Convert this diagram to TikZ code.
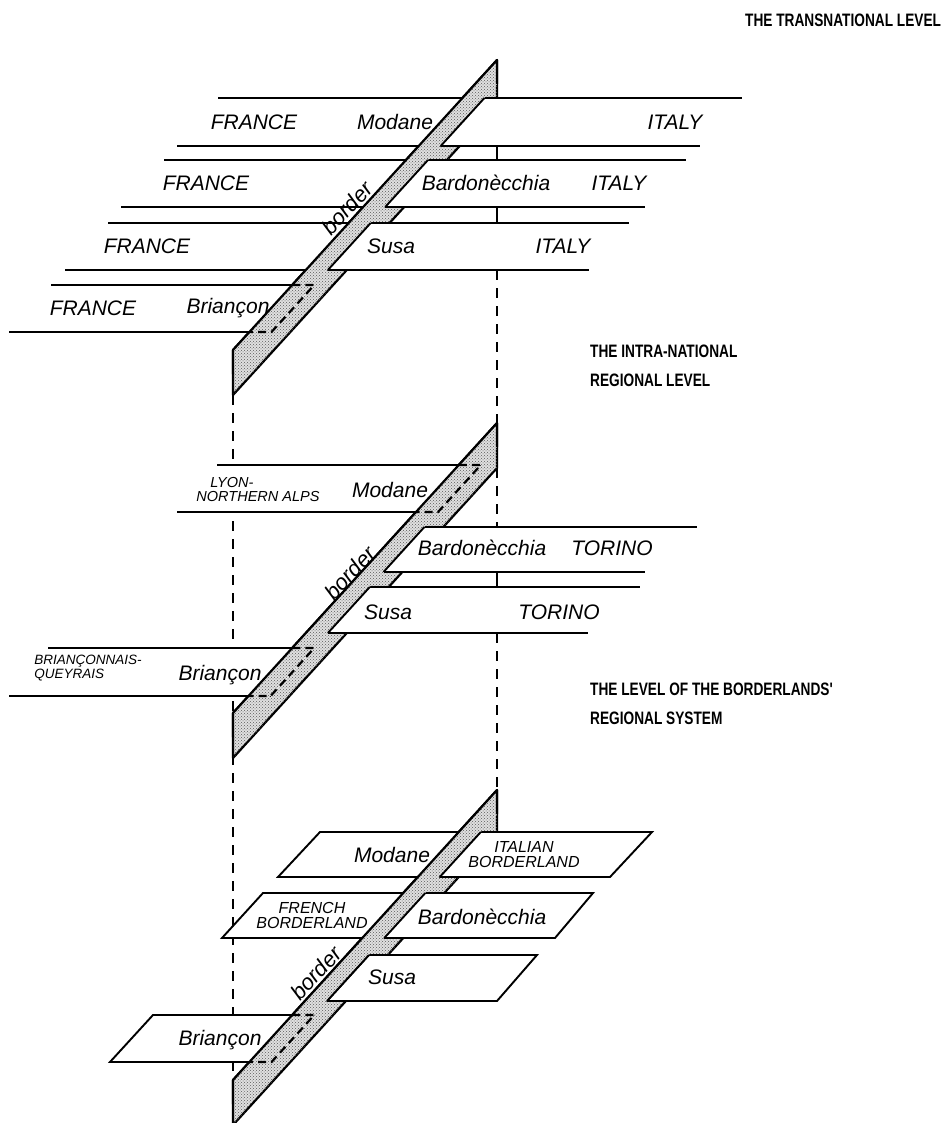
\documentclass[tikz,border=0pt]{standalone}
\usepackage{fontspec}
\setmainfont{Liberation Sans}
\newfontfamily\headfont[FakeStretch=0.76]{Liberation Sans}
\usetikzlibrary{patterns}

\begin{document}
\begin{tikzpicture}[x=1pt,y=-1pt,
    band/.style={line width=1.9pt},
    wall/.style={fill=black!12,postaction={pattern=crosshatch dots,pattern color=black!65}},
    edge/.style={line width=2.2pt,line join=round},
    guide/.style={line width=1.3pt,dash pattern=on 10pt off 8pt},
    hid/.style={line width=2.2pt,dash pattern=on 8pt off 5pt},
    lab/.style={font=\fontsize{21}{21}\selectfont\itshape,inner sep=0pt},
    sml/.style={font=\fontsize{16}{15}\selectfont\itshape,inner sep=0pt,align=center},
    head/.style={font=\headfont\fontsize{18}{29}\selectfont\bfseries,inner sep=0pt,anchor=west,align=left}]
\clip (0,0) rectangle (950,1123);
\fill[white] (0,0) rectangle (950,1123);

% guide lines between the levels
\draw[line width=1.3pt] (497,98) -- (497,270);
\draw[guide] (497,270) -- (497,527);
\draw[line width=1.3pt] (497,527) -- (497,633);
\draw[guide] (497,633) -- (497,790);
\draw[guide] (233,395) -- (233,1080);

% border walls
\foreach \t in {60,423,790}
  \draw[wall,edge] (497,\t) -- (497,\t+45) -- (233,\t+335) -- (233,\t+290) -- cycle;

% transnational level
\foreach \a/\b/\c/\d/\e/\f in {218/742/98/177/700/146,164/686/160/121/645/207,108/629/223/65/589/270} {
  \fill[white] (\a,\c) -- (\b,\c) -- (\e,\f) -- (\d,\f) -- cycle;
  \draw[band] (\a,\c) -- (\b,\c) (\d,\f) -- (\e,\f);
}
\fill[white] (51,285) -- (314.3,285) -- (271.5,332) -- (9,332) -- cycle;
\draw[band] (51,285) -- (314.3,285) (9,332) -- (271.5,332);

% intra-national level
\fill[white] (217,465) -- (480.8,465) -- (438,512) -- (177,512) -- cycle;
\draw[band] (217,465) -- (480.8,465) (177,512) -- (438,512);
\fill[white] (48,648) -- (314.3,648) -- (270.6,696) -- (9,696) -- cycle;
\draw[band] (48,648) -- (314.3,648) (9,696) -- (270.6,696);
\foreach \a/\b/\c/\d/\e/\f in {424.4/697/527/383.5/645/572,369.8/640/587/327.9/588/633} {
  \fill[white] (\a,\c) -- (\b,\c) -- (\e,\f) -- (\d,\f) -- cycle;
  \draw[band] (\a,\c) -- (\b,\c) (\d,\f) -- (\e,\f);
}

% borderlands' regional system
\foreach \a/\b/\c/\d/\e/\f in {320/652/832/278/610/877,263/593/893/222/555/938,368.9/537/955/327/497/1001}
  \draw[band,fill=white] (\a,\c) -- (\b,\c) -- (\e,\f) -- (\d,\f) -- cycle;
\fill[white] (153,1015) -- (314.3,1015) -- (271.5,1062) -- (110,1062) -- cycle;
\draw[band] (314.3,1015) -- (153,1015) -- (110,1062) -- (271.5,1062);

% part of the wall above the ground
\foreach \t in {60,423,790} {
  \fill[wall] (497,\t) -- (497,\t+24) -- (233,\t+314) -- (233,\t+290) -- cycle;
  \draw[edge] (497,\t+24) -- (497,\t) -- (233,\t+290) -- (233,\t+314);
}

% foot of the wall on the planes
\foreach \u/\v/\w/\z in {484.4/98/440.7/146,428/160/385.2/207,370.7/223/327.9/270,
    424.4/527/383.5/572,369.8/587/327.9/633,
    480.8/832/439.8/877,425.3/893/384.3/938,368.9/955/327/1001}
  \draw[band] (\u,\v) -- (\w,\z);

% hidden ends behind the wall
\foreach \a/\b/\c/\d/\e/\f in {292.3/314.3/285/249.5/271.5/332,458.8/480.8/465/416/438/512,
    292.3/314.3/648/248.6/270.6/696,292.3/314.3/1015/249.5/271.5/1062}
  \draw[hid] (\a,\c) -- (\b,\c) -- (\e,\f) -- (\d,\f);

% level titles
\node[head] (tTrans) at (745,20) {THE TRANSNATIONAL LEVEL};
\node[head] (tIntra) at (590,366) {THE INTRA-NATIONAL\\REGIONAL LEVEL};
\node[head] (tBord) at (590,704) {THE LEVEL OF THE BORDERLANDS'\\REGIONAL SYSTEM};

% labels, transnational level
\node[lab] (fr1) at (254,122) {FRANCE};
\node[lab] (mod1) at (395,122) {Modane};
\node[lab] (it1) at (675,122) {ITALY};
\node[lab] (fr2) at (206,183) {FRANCE};
\node[lab] (bar1) at (486,183) {Bardonècchia};
\node[lab] (it2) at (619,183) {ITALY};
\node[lab] (fr3) at (147,246) {FRANCE};
\node[lab] (sus1) at (391,246) {Susa};
\node[lab] (it3) at (563,246) {ITALY};
\node[lab] (fr4) at (93,308) {FRANCE};
\node[lab] (bri1) at (228,308) {Briançon};
\node[lab,font=\fontsize{22}{22}\selectfont\itshape,rotate=47.7] (bd1) at (347,208) {border};

% labels, intra-national level
\node[sml,align=left,font=\fontsize{14.5}{14}\selectfont\itshape] (lyon) at (258,490) {\hspace*{14pt}LYON-\\NORTHERN ALPS};
\node[lab] (mod2) at (390,490) {Modane};
\node[lab] (bar2) at (482,548) {Bardonècchia};
\node[lab] (tor1) at (612,548) {TORINO};
\node[lab] (sus2) at (388,612) {Susa};
\node[lab] (tor2) at (559,612) {TORINO};
\node[sml,align=left,font=\fontsize{13.5}{14}\selectfont\itshape] (queyr) at (88,668) {BRIANÇONNAIS-\\QUEYRAIS};
\node[lab] (bri2) at (220,675) {Briançon};
\node[lab,font=\fontsize{22}{22}\selectfont\itshape,rotate=47.7] (bd2) at (350,573) {border};

% labels, borderlands' regional system
\node[lab] (mod3) at (392,855) {Modane};
\node[sml] (itb) at (524,855) {ITALIAN\\BORDERLAND};
\node[sml] (frb) at (312,915) {FRENCH\\BORDERLAND};
\node[lab] (bar3) at (482,917) {Bardonècchia};
\node[lab] (sus3) at (392,977) {Susa};
\node[lab] (bri3) at (220,1040) {Briançon};
\node[lab,font=\fontsize{22}{22}\selectfont\itshape,rotate=47.7] (bd3) at (316,973) {border};
\end{tikzpicture}
\end{document}
